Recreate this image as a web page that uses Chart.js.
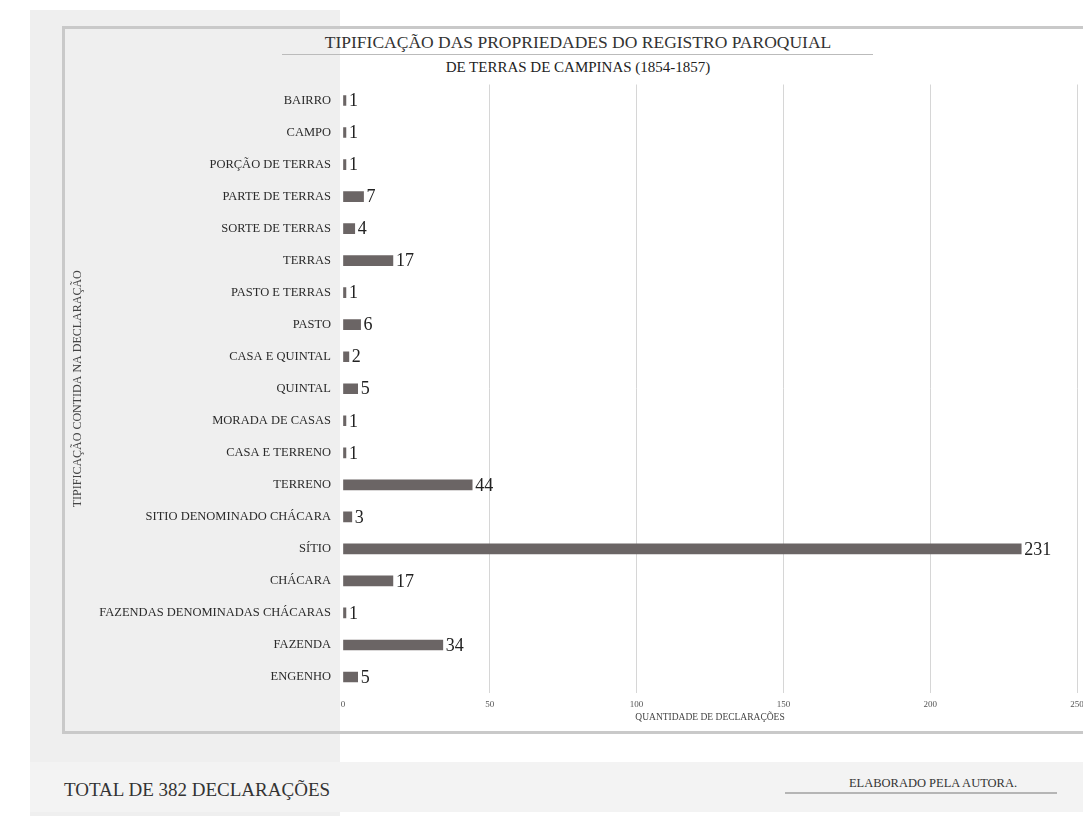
<!DOCTYPE html>
<html>
<head>
<meta charset="utf-8">
<script src="https://cdn.jsdelivr.net/npm/chart.js@4"></script>
<style>
  html, body { margin: 0; padding: 0; width: 1083px; height: 816px; overflow: hidden; background: #ffffff; }
  body { position: relative; font-family: "Liberation Serif", "DejaVu Serif", serif; }
  .painel { position: absolute; left: 30px; top: 10px; width: 310px; height: 806px; background: #efefef; }
  .faixa { position: absolute; left: 30px; top: 762px; width: 1053px; height: 50px; background: #f3f3f3; }
  .moldura { position: absolute; left: 62px; top: 26px; width: 1040px; height: 702px; border: 3px solid #c9c9c9; }
  .titulo1 { position: absolute; left: 228px; width: 700px; top: 32px; text-align: center; font-size: 17.5px; color: #333; }
  .linha-titulo { position: absolute; left: 282px; top: 54px; width: 591px; height: 1px; background: #bbbbbb; }
  .titulo2 { position: absolute; left: 228px; width: 700px; top: 59px; text-align: center; font-size: 15px; color: #222; }
  .total { position: absolute; left: 64px; top: 779px; font-size: 19px; color: #333; }
  .fonte { position: absolute; left: 785px; width: 296px; top: 776px; text-align: center; font-size: 12.5px; color: #333; }
  .linha-fonte { position: absolute; left: 785px; top: 792px; width: 272px; height: 2px; background: #b5b5b5; }
  .grafica { position: absolute; left: 60px; top: 65px; width: 1037px; height: 658px; }
</style>
</head>
<body>
<div class="painel"></div>
<div class="faixa"></div>
<div class="moldura"></div>
<div class="titulo1">TIPIFICAÇÃO DAS PROPRIEDADES DO REGISTRO PAROQUIAL</div>
<div class="linha-titulo"></div>
<div class="titulo2">DE TERRAS DE CAMPINAS (1854-1857)</div>
<div class="grafica"><canvas id="grafica-tipos"></canvas></div>
<div class="total">TOTAL DE 382 DECLARAÇÕES</div>
<div class="fonte">ELABORADO PELA AUTORA.</div>
<div class="linha-fonte"></div>
<script>
// Categorias e quantidades
const categorias = [
    'BAIRRO', 'CAMPO', 'PORÇÃO DE TERRAS', 'PARTE DE TERRAS', 'SORTE DE TERRAS',
    'TERRAS', 'PASTO E TERRAS', 'PASTO', 'CASA E QUINTAL', 'QUINTAL',
    'MORADA DE CASAS', 'CASA E TERRENO', 'TERRENO', 'SITIO DENOMINADO CHÁCARA', 'SÍTIO',
    'CHÁCARA', 'FAZENDAS DENOMINADAS CHÁCARAS', 'FAZENDA', 'ENGENHO'
];
const quantidades = [1, 1, 1, 7, 4, 17, 1, 6, 2, 5, 1, 1, 44, 3, 231, 17, 1, 34, 5];
const ticksX = [0, 50, 100, 150, 200, 250];

// Plugin para escrever o valor ao lado de cada barra
const rotulos = {
    id: 'rotulos',
    afterDatasetsDraw(chart) {
        const ctx = chart.ctx;
        const meta = chart.getDatasetMeta(0);
        ctx.save();
        ctx.font = '18px "Liberation Serif", serif';
        ctx.fillStyle = '#222';
        ctx.textBaseline = 'middle';
        ctx.textAlign = 'left';
        meta.data.forEach(function (barra, i) {
            ctx.fillText(String(quantidades[i]), barra.x + 3, barra.y + 1);
        });
        ctx.restore();
    }
};

new Chart(document.getElementById('grafica-tipos'), {
    type: 'bar',
    data: {
        labels: categorias,
        datasets: [{
            data: quantidades,
            backgroundColor: '#6b6565',
            barThickness: 10
        }]
    },
    options: {
        indexAxis: 'y',
        responsive: true,
        maintainAspectRatio: false,
        animation: false,
        layout: { padding: { top: 0, right: 20, left: 0, bottom: 0 } },
        plugins: {
            legend: { display: false },
            tooltip: { enabled: false }
        },
        scales: {
            x: {
                min: 0,
                max: 250,
                afterBuildTicks: function (s) { s.ticks = ticksX.map(v => ({ value: v })); },
                afterFit: function (s) { s.height = 30; },
                border: { display: false },
                grid: {
                    color: ctx => ctx.tick && ctx.tick.value === 0 ? 'rgba(0,0,0,0)' : '#d6d6d6',
                    drawTicks: false
                },
                ticks: {
                    padding: 6,
                    color: '#555',
                    font: { family: '"Liberation Serif", serif', size: 9 }
                },
                title: {
                    display: true,
                    text: 'QUANTIDADE DE DECLARAÇÕES',
                    color: '#444',
                    padding: { top: 0, bottom: 0 },
                    font: { family: '"Liberation Serif", serif', size: 9.5 }
                }
            },
            y: {
                afterFit: function (s) { s.width = 283; },
                border: { display: false },
                grid: { display: false, drawTicks: false },
                ticks: {
                    padding: 12,
                    color: '#2a2a2a',
                    font: { family: '"Liberation Serif", serif', size: 12.5 }
                },
                title: {
                    display: true,
                    text: 'TIPIFICAÇÃO CONTIDA NA DECLARAÇÃO',
                    color: '#444',
                    padding: { top: 11, bottom: 0 },
                    font: { family: '"Liberation Serif", serif', size: 12 }
                }
            }
        }
    },
    plugins: [rotulos]
});
</script>
</body>
</html>
